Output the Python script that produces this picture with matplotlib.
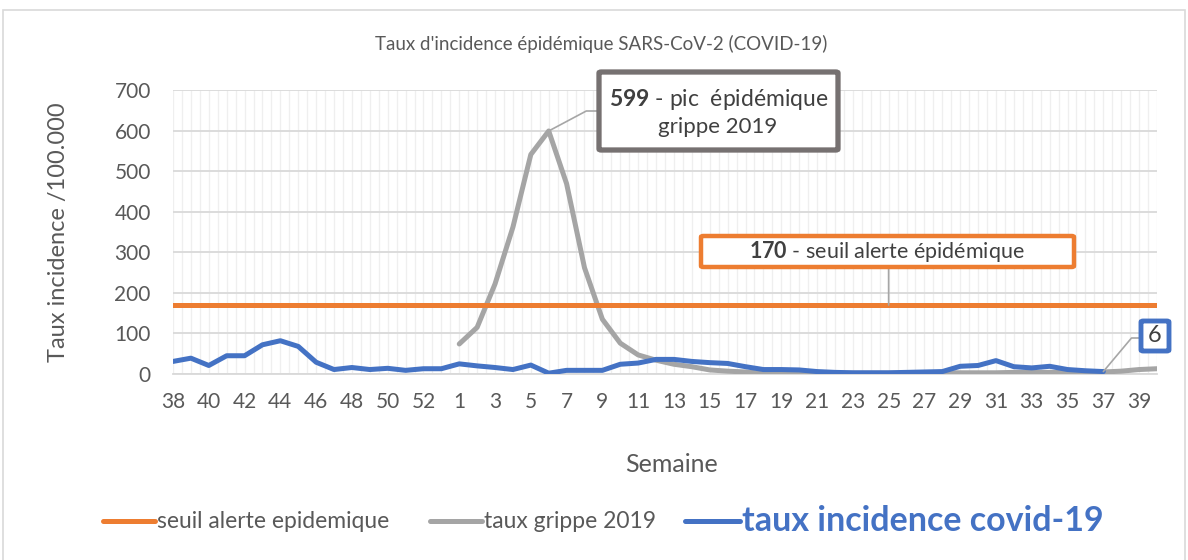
import matplotlib
matplotlib.use("Agg")
import matplotlib.pyplot as plt
import numpy as np
from matplotlib.patches import Rectangle, FancyBboxPatch
from matplotlib.lines import Line2D

plt.rcParams['font.family'] = ['Lato', 'DejaVu Sans']
plt.rcParams['mathtext.fontset'] = 'custom'
plt.rcParams['mathtext.rm'] = 'Lato'
plt.rcParams['mathtext.bf'] = 'Lato:bold'

# semaines 38-2019 .. 53, puis 1 .. 40 (2020)
semaines = list(range(38, 54)) + list(range(1, 41))

seuil = 170

# grippe 2019 : semaines 1 .. 40
grippe = [74, 115, 222, 362, 541, 599, 469, 262, 135, 76,
          47, 34, 24, 18, 10, 7, 5, 2, 2, 2,
          2, 2, 2, 2, 2, 2, 3, 3, 3, 3,
          3, 4, 4, 4, 4, 5, 5, 7, 11, 13]

# covid-19 : semaine 38 .. semaine 37
covid = [31, 39, 21, 45, 45, 72, 82, 68, 29, 11,
         16, 11, 14, 9, 13, 13, 25, 20, 16, 11,
         22, 2, 9, 9, 9, 24, 27, 36, 36, 31,
         28, 26, 18, 11, 11, 10, 6, 4, 3, 3,
         3, 4, 5, 6, 19, 21, 33, 18, 15, 19,
         11, 8, 6]

W, H = 1188, 560
fig = plt.figure(figsize=(W / 100, H / 100), dpi=100)


def fx(x):
    return x / W


def fy(y):
    return 1 - y / H


ax = fig.add_axes([fx(173), fy(374), fx(1157) - fx(173), fy(90) - fy(374)])

x_all = np.arange(len(semaines))
x_grippe = x_all[16:16 + len(grippe)]
x_covid = x_all[:len(covid)]

ax.plot(x_grippe, grippe, color='#A5A5A5', lw=3.6, zorder=3, solid_capstyle='round')
ax.axhline(seuil, color='#ED7D31', lw=3.6, zorder=4)
ax.plot(x_covid, covid, color='#4472C4', lw=3.6, zorder=5, solid_capstyle='round')

ax.set_xlim(0, len(semaines) - 1)
ax.set_ylim(0, 700)
ax.set_yticks(range(0, 701, 100))
ax.set_xticks(x_all[::2])
ax.set_xticklabels([str(s) for s in semaines[::2]])
ax.set_xticks(np.arange(0, len(semaines) - 0.99, 0.5), minor=True)
ax.tick_params(axis='both', which='both', length=0, labelsize=15, labelcolor='#595959')
ax.tick_params(axis='x', pad=13)
ax.tick_params(axis='y', pad=16)
ax.grid(axis='x', which='both', color='#efefef', lw=0.9, zorder=0)
ax.grid(axis='y', which='major', color='#d9d9d9', lw=1.3, zorder=1)
for s in ['top', 'right', 'left']:
    ax.spines[s].set_visible(False)
ax.spines['bottom'].set_color('#d9d9d9')
ax.spines['bottom'].set_linewidth(1.3)
ax.set_axisbelow(True)

# titres
fig.text(fx(601), fy(44), "Taux d'incidence épidémique SARS-CoV-2 (COVID-19)",
         ha='center', va='center', fontsize=13.5, color='#595959')
fig.text(fx(59), fy(232), "Taux incidence /100.000", rotation=90,
         ha='center', va='center', fontsize=17, color='#595959')
fig.text(fx(672), fy(464), "Semaine", ha='center', va='center',
         fontsize=18, color='#595959')

# étiquettes de données
def box(x0, y0, x1, y1, color, lw=3.5):
    fig.patches.append(FancyBboxPatch((fx(x0), fy(y1)), fx(x1) - fx(x0), fy(y0) - fy(y1),
                                      boxstyle='round,pad=0,rounding_size=0.002',
                                      transform=fig.transFigure, facecolor='white',
                                      edgecolor=color, lw=lw, zorder=10))


box(599, 72, 838, 150, '#767171', lw=3.8)
fig.text(fx(719), fy(99), r"$\mathbf{599}$ - pic  épidémique", ha='center', va='center',
         fontsize=16.5, color='#404040', zorder=11)
fig.text(fx(718), fy(127), "grippe 2019", ha='center', va='center',
         fontsize=16, color='#404040', zorder=11)

box(701, 236, 1074, 267, '#ED7D31', lw=3.2)
fig.text(fx(887), fy(251), r"$\mathbf{170}$ - seuil alerte épidémique", ha='center', va='center',
         fontsize=15.5, color='#404040', zorder=11)

box(1141, 321, 1169, 351, '#4472C4', lw=3.5)
fig.text(fx(1155), fy(336), "6", ha='center', va='center',
         fontsize=17, color='#404040', zorder=11)

i_pic = int(np.argmax(grippe))
ax.annotate("", xy=(x_grippe[i_pic], grippe[i_pic]), xytext=(fx(597), fy(111)),
            textcoords='figure fraction',
            arrowprops=dict(arrowstyle='-', color='#a6a6a6', lw=1.2, shrinkA=0, shrinkB=0,
                            connectionstyle='angle,angleA=0,angleB=28,rad=0'), zorder=9)
ax.annotate("", xy=(40, seuil), xytext=(fx(888.6), fy(267)),
            textcoords='figure fraction',
            arrowprops=dict(arrowstyle='-', color='#a6a6a6', lw=1.2, shrinkA=0, shrinkB=0),
            zorder=9)
ax.annotate("", xy=(x_covid[-1], covid[-1]), xytext=(fx(1140), fy(338)),
            textcoords='figure fraction',
            arrowprops=dict(arrowstyle='-', color='#a6a6a6', lw=1.2, shrinkA=0, shrinkB=0,
                            connectionstyle='angle,angleA=0,angleB=50,rad=0'), zorder=9)

# légende
legend = [
    (103, 155, '#ED7D31', "seuil alerte epidemique", 16.5, 'normal', '#595959'),
    (430, 482, '#A5A5A5', "taux grippe 2019", 16.5, 'normal', '#595959'),
    (685, 740, '#4472C4', "taux incidence covid-19", 24.5, 'bold', '#4472C4'),
]
for x0, x1, c, lab, fs, fw, tc in legend:
    fig.add_artist(Line2D([fx(x0), fx(x1)], [fy(521), fy(521)], color=c, lw=3.6,
                          transform=fig.transFigure, solid_capstyle='round'))
    fig.text(fx(x1 + 2), fy(521), lab, ha='left', va='center', fontsize=fs,
             fontweight=fw, color=tc)

# cadre du graphique
fig.patches.append(Rectangle((fx(3), -0.02), fx(1185) - fx(3), fy(10) + 0.02,
                             transform=fig.transFigure, fill=False,
                             edgecolor='#d9d9d9', lw=1.2))

fig.savefig("out.png", dpi=100)
